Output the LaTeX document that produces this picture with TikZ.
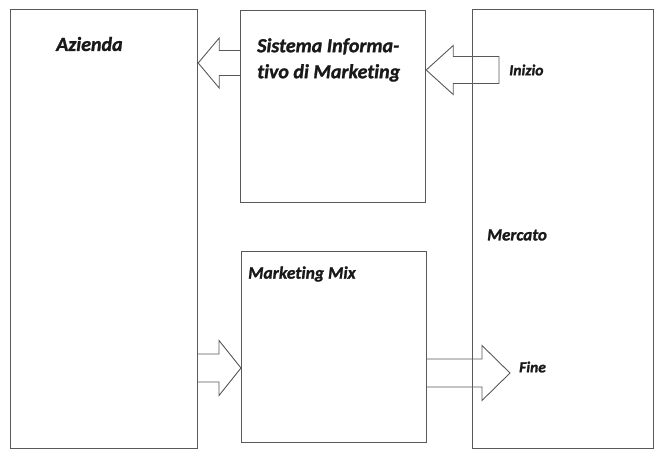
\documentclass[tikz,border=0pt]{standalone}
\usepackage{fontspec}
\setmainfont{Carlito}[Ligatures={NoCommon}, BoldItalicFeatures={FakeBold=1.3}]
\usetikzlibrary{calc}
\definecolor{edge}{gray}{0.35}
\definecolor{ink}{gray}{0.1}
\tikzset{
  panel/.style={draw=edge, line width=1.2pt, minimum width=#1, inner sep=0pt},
  lbl/.style={text=ink, inner sep=0pt},
  barrow/.style={draw=edge, line width=0.9pt, line join=miter}
}
\begin{document}
\begin{tikzpicture}[x=1pt,y=-1pt]
\useasboundingbox (0,0) rectangle (654,451);
% the four boxes
\node[panel=187pt, minimum height=439pt, anchor=north west] (az) at (10,9) {};
\node[panel=185pt, minimum height=192pt, anchor=north west] (sim) at (240,10) {};
\node[panel=185pt, minimum height=191pt, anchor=north west] (mm) at (241,251) {};
\node[panel=181pt, minimum height=439pt, anchor=north west] (mer) at (472,9) {};
% labels
\node[lbl, anchor=west, font={\fontsize{20}{24}\selectfont\bfseries\itshape}] (tAz) at (56,44) {Azienda};
\node[lbl, anchor=north west, align=left, font={\fontsize{20}{26}\selectfont\bfseries\itshape}] (tSim) at (257,38) {Sistema Informa-\\tivo di Marketing};
\node[lbl, anchor=west, font={\fontsize{17.5}{20}\selectfont\bfseries\itshape}] (tMM) at (248,274) {Marketing Mix};
\node[lbl, anchor=west, font={\fontsize{17}{20}\selectfont\bfseries\itshape}] (tMer) at (487,235) {Mercato};
\node[lbl, anchor=west, font={\fontsize{15.5}{18}\selectfont\bfseries\itshape}] (tIn) at (509,70) {Inizio};
\node[lbl, anchor=west, font={\fontsize{15.5}{18}\selectfont\bfseries\itshape}] (tFi) at (519,367) {Fine};
% arrow end points
\coordinate (s1) at (sim.west |- 0,63);
\coordinate (e1) at (az.east |- 0,63);
\coordinate (s2) at (499,70);
\coordinate (e2) at (sim.east |- 0,70);
\coordinate (s3) at (az.east |- 0,368);
\coordinate (e3) at (mm.west |- 0,368);
\coordinate (s4) at (mm.east |- 0,373);
\coordinate (e4) at (510,373);
% block arrows
\draw[barrow] ($(s1)+(0,-12.5)$) -- ($(e1)+(21,-12.5)$) -- ($(e1)+(21,-25)$) -- (e1)
  -- ($(e1)+(21,25)$) -- ($(e1)+(21,12.5)$) -- ($(s1)+(0,12.5)$);
\draw[barrow] ($(s2)+(0,-13.5)$) -- ($(e2)+(27,-13.5)$) -- ($(e2)+(27,-24.5)$) -- (e2)
  -- ($(e2)+(27,24.5)$) -- ($(e2)+(27,13.5)$) -- ($(s2)+(0,13.5)$) -- cycle;
\draw[barrow] ($(s3)+(0,-14)$) -- ($(e3)+(-22,-14)$) -- ($(e3)+(-22,-27.5)$) -- (e3)
  -- ($(e3)+(-22,27.5)$) -- ($(e3)+(-22,14)$) -- ($(s3)+(0,14)$);
\draw[barrow] ($(s4)+(0,-14)$) -- ($(e4)+(-28,-14)$) -- ($(e4)+(-28,-27.5)$) -- (e4)
  -- ($(e4)+(-28,27.5)$) -- ($(e4)+(-28,14)$) -- ($(s4)+(0,14)$);
\end{tikzpicture}
\end{document}
